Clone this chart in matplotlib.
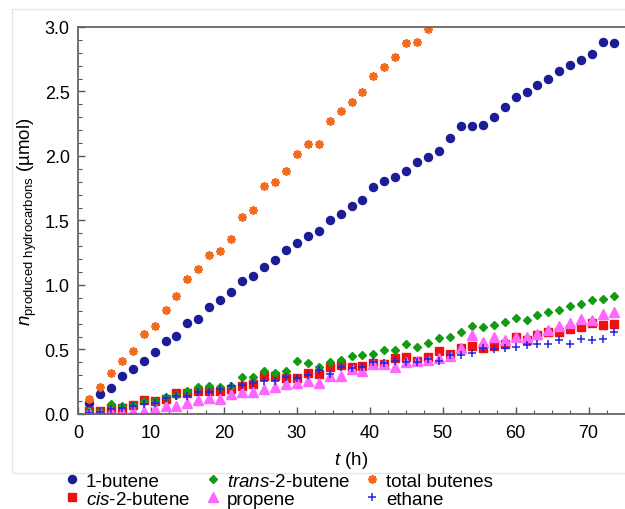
import numpy as np
import matplotlib.pyplot as plt
from matplotlib.patches import Rectangle
from matplotlib.ticker import MultipleLocator

plt.rcParams['font.family'] = ['Liberation Sans', 'DejaVu Sans']
plt.rcParams['mathtext.fontset'] = 'custom'
plt.rcParams['mathtext.rm'] = 'Liberation Sans'
plt.rcParams['mathtext.it'] = 'Liberation Sans:italic'

# sampling times (h), every 1.5 h
t = np.arange(1, 50) * 1.5

butene1 = [0.085, 0.153, 0.200, 0.292, 0.349, 0.408, 0.478, 0.566, 0.607, 0.703,
           0.734, 0.832, 0.881, 0.948, 1.028, 1.070, 1.137, 1.194, 1.269, 1.326,
           1.382, 1.421, 1.506, 1.553, 1.612, 1.661, 1.757, 1.804, 1.840, 1.884,
           1.951, 1.990, 2.036, 2.137, 2.233, 2.233, 2.240, 2.300, 2.377, 2.457,
           2.493, 2.548, 2.594, 2.659, 2.705, 2.744, 2.793, 2.881, 2.876]

cis2 = [0.023, 0.026, 0.045, 0.047, 0.068, 0.107, 0.100, 0.113, 0.161, 0.161,
        0.178, 0.182, 0.179, 0.192, 0.219, 0.231, 0.293, 0.294, 0.278, 0.281,
        0.320, 0.313, 0.364, 0.377, 0.362, 0.375, 0.395, 0.388, 0.437, 0.445,
        0.413, 0.445, 0.491, 0.463, 0.514, 0.525, 0.509, 0.530, 0.540, 0.597,
        0.576, 0.612, 0.638, 0.633, 0.661, 0.672, 0.703, 0.690, 0.695]

trans2 = [0.020, 0.022, 0.078, 0.065, 0.070, 0.104, 0.104, 0.130, 0.151, 0.182,
          0.208, 0.214, 0.206, 0.216, 0.284, 0.289, 0.336, 0.315, 0.333, 0.409,
          0.395, 0.362, 0.400, 0.418, 0.449, 0.461, 0.467, 0.499, 0.495, 0.545,
          0.518, 0.549, 0.589, 0.600, 0.638, 0.681, 0.674, 0.692, 0.715, 0.741,
          0.728, 0.767, 0.792, 0.806, 0.840, 0.850, 0.884, 0.890, 0.913]

propene = [0.005, 0.010, 0.016, 0.018, 0.021, 0.021, 0.036, 0.065, 0.060, 0.089,
           0.112, 0.125, 0.120, 0.154, 0.169, 0.172, 0.195, 0.211, 0.232, 0.240,
           0.254, 0.244, 0.297, 0.297, 0.349, 0.336, 0.388, 0.388, 0.364, 0.403,
           0.408, 0.415, 0.432, 0.447, 0.508, 0.612, 0.556, 0.600, 0.576, 0.600,
           0.600, 0.620, 0.652, 0.680, 0.705, 0.736, 0.728, 0.778, 0.794]

ethane = [0.005, 0.018, 0.039, 0.044, 0.065, 0.078, 0.086, 0.122, 0.141, 0.143,
          0.169, 0.174, 0.193, 0.214, 0.221, 0.242, 0.255, 0.255, 0.286, 0.279,
          0.305, 0.344, 0.313, 0.362, 0.355, 0.362, 0.406, 0.393, 0.407, 0.406,
          0.400, 0.425, 0.410, 0.458, 0.457, 0.471, 0.510, 0.502, 0.509, 0.518,
          0.536, 0.544, 0.545, 0.570, 0.541, 0.581, 0.576, 0.581, 0.633]

# total butenes, visible up to 48 h (rest above the axis limit)
total = [0.119, 0.207, 0.318, 0.408, 0.491, 0.623, 0.682, 0.806, 0.917, 1.047,
         1.121, 1.230, 1.266, 1.354, 1.525, 1.584, 1.765, 1.798, 1.884, 2.013,
         2.095, 2.095, 2.274, 2.346, 2.422, 2.493, 2.618, 2.687, 2.765, 2.873,
         2.881, 2.984]

fig = plt.figure(figsize=(6.25, 5.1), dpi=100)

# light frame around the plot region
fig.patches.append(Rectangle((0.0192, 0.0706), 0.99, 0.9094, transform=fig.transFigure,
                             fill=False, edgecolor='#e6e6e6', linewidth=1.0, zorder=0))

ax = fig.add_axes([0.1248, 0.1863, 0.8752, 0.7588])

h1, = ax.plot(t, butene1, 'o', color='#1c1c96', ms=5.8, label='1-butene')
h2, = ax.plot(t, cis2, 's', color='#f01010', ms=5.6, label='$\\it{cis}$-2-butene')
h3, = ax.plot(t, trans2, 'D', color='#139b13', ms=4.5, label='$\\it{trans}$-2-butene')
h4, = ax.plot(t, propene, '^', color='#ff66ff', ms=6.5, label='propene')
h5, = ax.plot(t[:len(total)], total, marker=(8, 2, 0), ls='none', color='#f26a1b',
              ms=6.2, mew=1.3, label='total butenes')
h6, = ax.plot(t, ethane, '+', color='#2323e0', ms=6.0, mew=1.1, label='ethane')

ax.set_xlim(0, 75)
ax.set_ylim(0, 3.0)
ax.xaxis.set_major_locator(MultipleLocator(10))
ax.xaxis.set_minor_locator(MultipleLocator(2.5))
ax.yaxis.set_major_locator(MultipleLocator(0.5))
ax.yaxis.set_minor_locator(MultipleLocator(0.1))
ax.yaxis.set_major_formatter(plt.FormatStrFormatter('%.1f'))
ax.tick_params(which='both', direction='in', top=False, right=False,
               colors='#555555', labelcolor='black', labelsize=13)
ax.tick_params(axis='x', which='major', pad=7)
ax.tick_params(axis='y', which='major', pad=6)
ax.tick_params(which='major', length=5, width=1)
ax.tick_params(which='minor', length=3, width=0.8)
for s in ['left', 'bottom', 'top']:
    ax.spines[s].set_color('#666666')
    ax.spines[s].set_linewidth(1.3)
ax.spines['right'].set_visible(False)

ax.set_xlabel('$\\it{t}$ (h)', fontsize=13.5, labelpad=6)
ax.set_ylabel('$\\it{n}_{\\mathrm{produced\\ hydrocarbons}}$ (µmol)', fontsize=13.5, labelpad=4)

fig.legend(handles=[h1, h2, h3, h4, h5, h6], ncol=3, loc='upper left',
           bbox_to_anchor=(0.103, 0.071), frameon=False, fontsize=13.5,
           handlelength=0.8, handletextpad=0.35, columnspacing=0.8,
           labelspacing=0.05, borderpad=0, borderaxespad=0)

fig.savefig('out.png', dpi=100)
